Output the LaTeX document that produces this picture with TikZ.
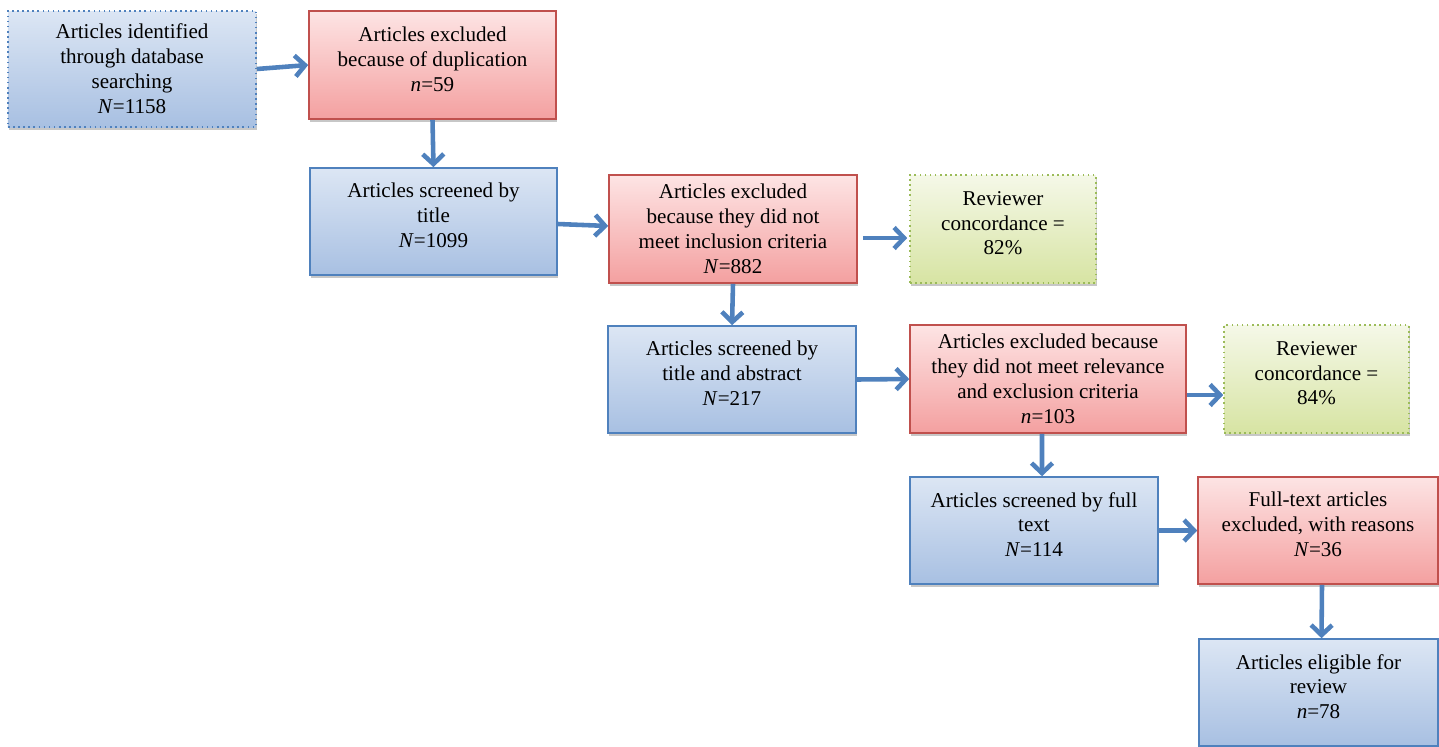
\documentclass[tikz,border=0pt]{standalone}
\usepackage{fontspec}
\setmainfont{Liberation Serif}
\usepackage{xcolor}
\usepackage{tikz}
\usetikzlibrary{calc}
\usetikzlibrary{arrows.meta}
\usetikzlibrary{shadows}
\usetikzlibrary{positioning}

\definecolor{blueline}{HTML}{4F81BD}
\definecolor{bluetop}{HTML}{DCE6F4}
\definecolor{bluebot}{HTML}{A8C0E2}
\definecolor{redline}{HTML}{C0504D}
\definecolor{redtop}{HTML}{FDE4E4}
\definecolor{redbot}{HTML}{F4A0A0}
\definecolor{greenline}{HTML}{9BBB59}
\definecolor{greentop}{HTML}{F5F8E8}
\definecolor{greenbot}{HTML}{D7E4A3}

% lifts a three-line text a little towards the top of its box
\newcommand{\liftup}{\\[-7.4pt]\mbox{}}

\tikzset{
  box/.style={rectangle, align=center, inner sep=2pt,
    font=\fontsize{12}{14.2}\selectfont,
    drop shadow={shadow xshift=0.4pt, shadow yshift=-1.6pt, fill=gray!55, opacity=0.8}},
  bluebox/.style={box, draw=blueline, line width=0.9pt, top color=bluetop, bottom color=bluebot},
  redbox/.style={box, draw=redline, line width=0.9pt, top color=redtop, bottom color=redbot},
  greenbox/.style={box, draw=greenline, line width=0.9pt, dotted, top color=greentop, bottom color=greenbot},
  flow/.style={-{Straight Barb[length=0.2cm, width=0.42cm]}, line width=2.6pt, draw=blueline}
}

\begin{document}
\begin{tikzpicture}
\useasboundingbox (0,0) rectangle (28.78,-14.92);
\node [bluebox, dotted, minimum width=4.96cm, minimum height=2.32cm] (ident) at (2.64,-1.38) {Articles identified\\through database\\searching\\\textit{N}=1158};
\node [redbox, minimum width=4.94cm, minimum height=2.16cm] (dupl) at (8.65,-1.30) {Articles excluded\\because of duplication\\\textit{n}=59\liftup};
\node [bluebox, minimum width=4.94cm, minimum height=2.14cm] (title) at (8.67,-4.43) {Articles screened by\\title\\\textit{N}=1099\liftup};
\node [redbox, minimum width=4.96cm, minimum height=2.16cm] (exclA) at (14.66,-4.58) {Articles excluded\\because they did not\\meet inclusion criteria\\\textit{N}=882};
\node [greenbox, minimum width=3.72cm, minimum height=2.16cm] (concA) at (20.06,-4.58) {Reviewer\\concordance =\\82\%\liftup};
\node [bluebox, minimum width=4.96cm, minimum height=2.14cm] (abstr) at (14.64,-7.59) {Articles screened by\\title and abstract\\\textit{N}=217\liftup};
\node [redbox, minimum width=5.52cm, minimum height=2.16cm] (exclB) at (20.96,-7.58) {Articles excluded because\\they did not meet relevance\\and exclusion criteria\\\textit{n}=103};
\node [greenbox, minimum width=3.70cm, minimum height=2.16cm] (concB) at (26.33,-7.58) {Reviewer\\concordance =\\84\%\liftup};
\node [bluebox, minimum width=4.96cm, minimum height=2.14cm] (full) at (20.68,-10.61) {Articles screened by full\\text\\\textit{N}=114\liftup};
\node [redbox, minimum width=4.80cm, minimum height=2.14cm] (exclC) at (26.36,-10.61) {Full-text articles\\excluded, with reasons\\\textit{N}=36\liftup};
\node [bluebox, minimum width=4.78cm, minimum height=2.14cm] (elig) at (26.37,-13.85) {Articles eligible for\\review\\\textit{n}=78\liftup};
% arrows
\draw [flow] (ident.east) to (dupl.west);
\draw [flow] (dupl.south) to (title.north);
\draw [flow] ([yshift=-0.05cm]title.east) to ([yshift=0.06cm]exclA.west);
\draw [flow] ([xshift=0.1cm, yshift=-0.18cm]exclA.east) to ([xshift=-0.04cm, yshift=-0.18cm]concA.west);
\draw [flow] (exclA.south) to (abstr.north);
\draw [flow] (abstr.east) to (exclB.west);
\draw [flow] ([yshift=-0.32cm]exclB.east) to ([yshift=-0.32cm]concB.west);
\draw [flow] ([xshift=-0.12cm]exclB.south) to ([xshift=0.16cm]full.north);
\draw [flow] (full.east) to (exclC.west);
\draw [flow] ([xshift=0.08cm]exclC.south) to ([xshift=0.06cm]elig.north);
\end{tikzpicture}
\end{document}
